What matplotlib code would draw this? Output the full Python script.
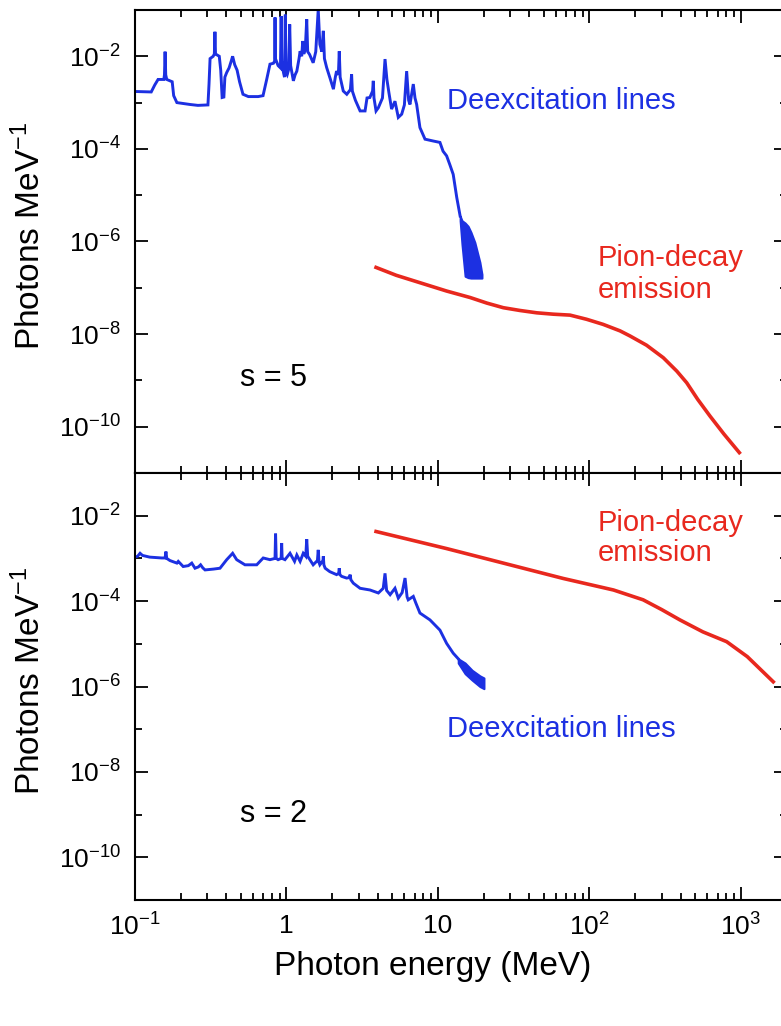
import numpy as np
import matplotlib
matplotlib.use("Agg")
import matplotlib.pyplot as plt
from matplotlib.ticker import FixedLocator, NullFormatter

plt.rcParams['font.family'] = ['Liberation Sans', 'DejaVu Sans']
plt.rcParams['mathtext.fontset'] = 'custom'
plt.rcParams['mathtext.rm'] = 'Liberation Sans'
plt.rcParams['mathtext.it'] = 'Liberation Sans:italic'
plt.rcParams['mathtext.bf'] = 'Liberation Sans:bold'

BLUE = '#1c30e2'
RED = '#e8281e'

# --- data: energies in MeV, intensities as log10(photons / MeV) ---

# s = 5 panel, deexcitation lines
top_lines_e = [
    0.100, 0.128, 0.135, 0.142, 0.155, 0.1565, 0.158, 0.1595, 0.162, 0.176,
    0.180, 0.189, 0.230, 0.260, 0.303, 0.308, 0.313, 0.328, 0.334, 0.337,
    0.340, 0.360, 0.368, 0.376, 0.386, 0.392, 0.403, 0.418, 0.432, 0.441,
    0.455, 0.472, 0.490, 0.516, 0.560, 0.650, 0.700, 0.740, 0.778, 0.820,
    0.835, 0.840, 0.845, 0.880, 0.912, 0.922, 0.930, 0.955, 0.970, 0.982,
    0.990, 1.010, 1.030, 1.050, 1.065, 1.110, 1.140, 1.170, 1.210, 1.230,
    1.260, 1.280, 1.300, 1.330, 1.360, 1.380, 1.420, 1.500, 1.560, 1.620,
    1.660, 1.710, 1.750, 1.780, 1.840, 1.950, 2.040, 2.100, 2.140, 2.200,
    2.230, 2.260, 2.370, 2.500, 2.640, 2.690, 2.720, 2.850, 3.060, 3.300,
    3.400, 3.550, 3.700, 3.740, 3.780, 3.900, 4.040, 4.300, 4.470, 4.600,
    4.750, 4.940, 5.200, 5.470, 5.760, 6.000, 6.210, 6.400, 6.530, 6.870,
    7.050, 7.230, 7.600, 8.210, 9.310, 10.30, 10.80, 11.40, 12.00, 12.60,
    13.30, 14.00,
]
top_lines_log = [
    -2.76, -2.77, -2.62, -2.50, -2.50, -2.40, -1.90, -2.40, -2.50, -2.55,
    -2.85, -3.00, -3.04, -3.06, -3.05, -2.60, -2.05, -2.00, -1.95, -1.47,
    -1.95, -2.00, -2.30, -2.89, -2.88, -2.45, -2.35, -2.25, -2.10, -2.00,
    -2.18, -2.30, -2.55, -2.82, -2.87, -2.87, -2.85, -2.50, -2.17, -2.15,
    -2.10, -1.16, -2.05, -2.20, -2.25, -1.13, -2.10, -2.35, -2.45, -1.10,
    -2.35, -2.40, -2.30, -1.31, -2.20, -2.53, -2.40, -2.32, -2.05, -1.89,
    -2.00, -1.67, -1.95, -1.85, -1.20, -1.90, -1.96, -2.14, -1.90, -0.99,
    -1.74, -1.90, -1.45, -2.05, -2.24, -2.50, -2.71, -2.45, -2.32, -2.40,
    -1.89, -2.45, -2.75, -2.82, -2.72, -2.39, -2.75, -2.95, -3.18, -3.18,
    -2.90, -2.89, -2.75, -2.53, -2.90, -3.18, -3.11, -2.90, -2.06, -2.50,
    -2.80, -3.14, -2.97, -3.32, -3.25, -3.05, -2.32, -2.95, -3.04, -2.60,
    -2.90, -3.04, -3.54, -3.79, -3.83, -3.86, -4.05, -4.15, -4.35, -4.55,
    -5.05, -5.45,
]
# noisy high-energy tail, upper / lower envelope
top_tail_e = [14.0, 14.4, 15.1, 15.8, 16.5, 17.5, 18.9, 19.5]
top_tail_hi = [-5.45, -5.55, -5.60, -5.67, -5.80, -6.02, -6.45, -6.71]
top_tail_lo = [-5.55, -6.06, -6.75, -6.78, -6.79, -6.79, -6.79, -6.79]

# s = 5 panel, pion-decay emission
top_pion_e = [3.9, 5.3, 7.6, 11.4, 16.3, 21.0, 27.0, 34.8, 44.8, 57.7,
              74.4, 95.7, 123, 159, 185, 238, 307, 377, 438, 518, 624,
              772, 975]
top_pion_log = [-6.56, -6.73, -6.89, -7.07, -7.21, -7.33, -7.43, -7.49,
                -7.54, -7.57, -7.59, -7.68, -7.79, -7.93, -8.04, -8.24,
                -8.51, -8.80, -9.05, -9.41, -9.77, -10.16, -10.56]

# s = 2 panel, deexcitation lines
bot_lines_e = [
    0.100, 0.104, 0.108, 0.112, 0.125, 0.150, 0.158, 0.160, 0.162, 0.170,
    0.189, 0.193, 0.208, 0.225, 0.237, 0.249, 0.262, 0.271, 0.280, 0.290,
    0.330, 0.364, 0.403, 0.441, 0.469, 0.532, 0.636, 0.702, 0.778, 0.840,
    0.847, 0.855, 0.880, 0.922, 0.929, 0.936, 0.977, 1.055, 1.130, 1.170,
    1.230, 1.290, 1.340, 1.360, 1.380, 1.500, 1.600, 1.620, 1.640, 1.660,
    1.740, 1.750, 1.765, 1.800, 1.930, 2.140, 2.210, 2.230, 2.250, 2.310,
    2.490, 2.600, 2.630, 2.660, 2.760, 3.060, 3.560, 4.040, 4.350, 4.470,
    4.580, 4.830, 5.200, 5.470, 5.800, 6.060, 6.250, 6.360, 6.870, 7.150,
    7.600, 8.850, 10.30, 11.40, 12.60, 13.60,
]
bot_lines_log = [
    -2.97, -2.95, -2.88, -2.93, -2.97, -2.99, -2.99, -2.84, -3.00, -3.05,
    -3.11, -3.07, -3.19, -3.17, -3.11, -3.23, -3.20, -3.15, -3.22, -3.27,
    -3.25, -3.23, -3.03, -2.88, -3.03, -3.15, -3.15, -2.99, -3.03, -3.00,
    -2.42, -3.00, -3.03, -3.00, -2.64, -3.00, -3.03, -2.88, -3.07, -2.92,
    -3.07, -2.88, -2.95, -2.55, -2.95, -3.15, -3.05, -2.80, -3.10, -3.15,
    -3.05, -2.95, -3.15, -3.23, -3.31, -3.38, -3.35, -3.23, -3.38, -3.42,
    -3.46, -3.45, -3.38, -3.50, -3.58, -3.70, -3.74, -3.81, -3.70, -3.35,
    -3.75, -3.85, -3.70, -3.93, -3.80, -3.46, -3.90, -3.97, -3.89, -4.05,
    -4.28, -4.44, -4.68, -4.99, -5.22, -5.35,
]
bot_tail_e = [13.6, 15.1, 16.8, 18.9, 20.1]
bot_tail_hi = [-5.35, -5.45, -5.62, -5.75, -5.80]
bot_tail_lo = [-5.45, -5.70, -5.85, -6.00, -6.05]

# s = 2 panel, pion-decay emission
bot_pion_e = [3.9, 11.4, 31.4, 67.1, 144, 226, 300, 395, 560, 804, 1100, 1633]
bot_pion_log = [-2.37, -2.77, -3.17, -3.47, -3.74, -3.97, -4.20, -4.44,
                -4.72, -4.95, -5.30, -5.89]

# axis ticks
x_major = [0.1, 1, 10, 100, 1000]
x_major_labels = ['$10^{-1}$', '1', '10', '$10^{2}$', '$10^{3}$']
x_minor = [m * d for d in (0.1, 1, 10, 100) for m in range(2, 10)] + [2000]
y_major = [1e-2, 1e-4, 1e-6, 1e-8, 1e-10]
y_major_labels = ['$10^{-2}$', '$10^{-4}$', '$10^{-6}$', '$10^{-8}$', '$10^{-10}$']
y_minor = [1e-3, 1e-5, 1e-7, 1e-9]

W, H = 781, 1026
fig = plt.figure(figsize=(W / 100, H / 100), dpi=100)
left = 135 / W
width = (786.6 - 135) / W
ax_top = fig.add_axes([left, 1 - 473 / H, width, 463 / H])
ax_bot = fig.add_axes([left, 1 - 900 / H, width, 427 / H], sharex=ax_top)


def pow10(vals):
    return np.power(10.0, np.asarray(vals))


def style_axes(ax):
    ax.set_xscale('log')
    ax.set_yscale('log')
    ax.set_xlim(0.1, 2000)
    ax.set_ylim(1e-11, 1e-1)
    ax.xaxis.set_major_locator(FixedLocator(x_major))
    ax.xaxis.set_minor_locator(FixedLocator(x_minor))
    ax.xaxis.set_minor_formatter(NullFormatter())
    ax.yaxis.set_major_locator(FixedLocator(y_major))
    ax.yaxis.set_minor_locator(FixedLocator(y_minor))
    ax.yaxis.set_minor_formatter(NullFormatter())
    ax.set_yticklabels(y_major_labels)
    ax.tick_params(which='both', direction='in', top=True, right=True,
                   width=1.3, colors='black')
    ax.tick_params(which='major', length=9.5, labelsize=19, pad=10)
    ax.tick_params(which='minor', length=5)
    for sp in ax.spines.values():
        sp.set_linewidth(1.5)


for ax in (ax_top, ax_bot):
    style_axes(ax)

# top panel: s = 5
ax_top.plot(top_lines_e, pow10(top_lines_log), color=BLUE, lw=2.1,
            solid_joinstyle='miter')
ax_top.fill_between(top_tail_e, pow10(top_tail_lo), pow10(top_tail_hi),
                    color=BLUE, lw=1.5, edgecolor=BLUE)
ax_top.plot(top_pion_e, pow10(top_pion_log), color=RED, lw=2.6)
ax_top.tick_params(labelbottom=False)

ax_top.text(11.5, 10 ** -3.145, 'Deexcitation lines', color=BLUE,
            fontsize=21, va='baseline', ha='left')
ax_top.text(114, 10 ** -6.53, 'Pion-decay', color=RED,
            fontsize=21, va='baseline', ha='left')
ax_top.text(114, 10 ** -7.23, 'emission', color=RED,
            fontsize=21, va='baseline', ha='left')
ax_top.text(0.493, 10 ** -9.13, 's = 5', color='black',
            fontsize=22, va='baseline', ha='left')

# bottom panel: s = 2
ax_bot.plot(bot_lines_e, pow10(bot_lines_log), color=BLUE, lw=2.1,
            solid_joinstyle='miter')
ax_bot.fill_between(bot_tail_e, pow10(bot_tail_lo), pow10(bot_tail_hi),
                    color=BLUE, lw=1.5, edgecolor=BLUE)
ax_bot.plot(bot_pion_e, pow10(bot_pion_log), color=RED, lw=2.6)
ax_bot.set_xticklabels(x_major_labels)

ax_bot.text(114, 10 ** -2.37, 'Pion-decay', color=RED,
            fontsize=21, va='baseline', ha='left')
ax_bot.text(114, 10 ** -3.07, 'emission', color=RED,
            fontsize=21, va='baseline', ha='left')
ax_bot.text(11.5, 10 ** -7.18, 'Deexcitation lines', color=BLUE,
            fontsize=21, va='baseline', ha='left')
ax_bot.text(0.493, 10 ** -9.18, 's = 2', color='black',
            fontsize=22, va='baseline', ha='left')

# axis titles
fig.text(30 / W, 1 - 236 / H, 'Photons MeV$^{-1}$', rotation=90,
         ha='center', va='center', fontsize=24)
fig.text(30 / W, 1 - 681 / H, 'Photons MeV$^{-1}$', rotation=90,
         ha='center', va='center', fontsize=24)
fig.text(433 / W, 1 - 975 / H, 'Photon energy (MeV)', ha='center',
         va='baseline', fontsize=24)

fig.savefig('out.png', dpi=100)
